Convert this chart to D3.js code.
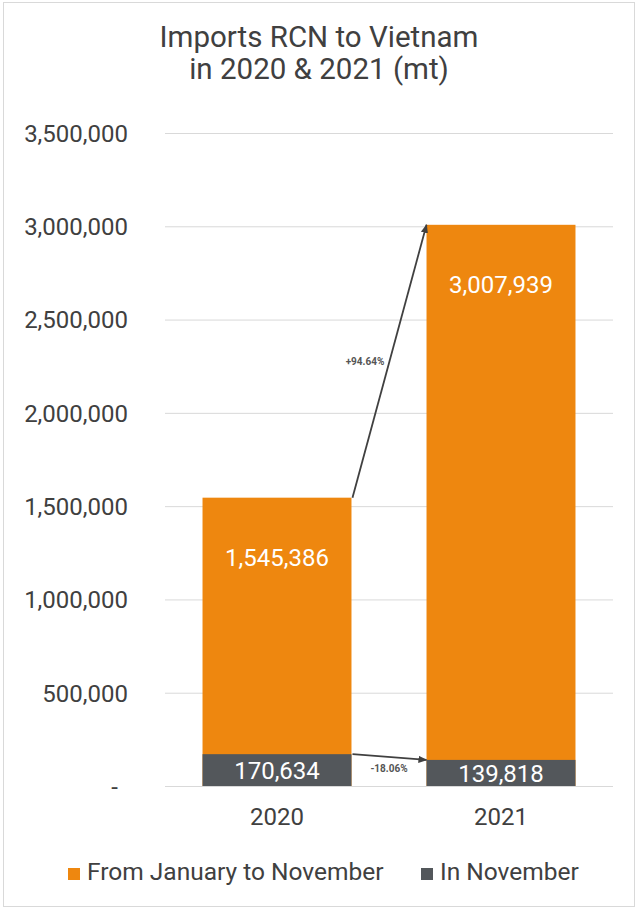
<!DOCTYPE html>
<html>
<head>
<meta charset="utf-8">
<script src="https://cdn.jsdelivr.net/npm/d3@7"></script>
<style>
body { margin: 0; background: #fff; }
text { font-family: Roboto, "Noto Sans", sans-serif; }
</style>
</head>
<body>
<script>
//chart data
var years = ["2020", "2021"];
var janToNov = [1545386, 3007939];
var inNov = [170634, 139818];
var changeLabels = ["+94.64%", "-18.06%"];
var seriesNames = ["From January to November", "In November"];
var tickValues = [0, 500000, 1000000, 1500000, 2000000, 2500000, 3000000, 3500000];

var width = 639, height = 911;
var orange = "#ee870f", gray = "#53575b";

var svg = d3.select("body")
    .append("svg")
    .attr("width", width)
    .attr("height", height);

//outer frame
svg.append("rect")
    .attr("x", 3.5).attr("y", 2.5)
    .attr("width", 631).attr("height", 904)
    .attr("fill", "#fff")
    .attr("stroke", "#d9d9d9");

//title
svg.append("text")
    .attr("x", 319).attr("y", 47)
    .attr("text-anchor", "middle")
    .attr("font-size", 29.5)
    .attr("fill", "#404040")
    .text("Imports RCN to Vietnam");
svg.append("text")
    .attr("x", 319).attr("y", 79)
    .attr("text-anchor", "middle")
    .attr("font-size", 29.5)
    .attr("fill", "#404040")
    .text("in 2020 & 2021 (mt)");

//scales
var xScale = d3.scaleBand()
    .domain(years)
    .range([165, 613])
    .paddingInner(0.335)
    .paddingOuter(0.1675);

var yScale = d3.scaleLinear()
    .domain([0, 3500000])
    .range([786, 133]);

//gridlines
svg.append("g").selectAll("line")
    .data(tickValues)
    .enter()
    .append("line")
    .attr("x1", 165).attr("x2", 613)
    .attr("y1", function (d) { return yScale(d) + 0.5; })
    .attr("y2", function (d) { return yScale(d) + 0.5; })
    .attr("stroke", "#d9d9d9")
    .attr("stroke-width", 1);

//y axis labels
var yAxis = d3.axisLeft(yScale)
    .tickValues(tickValues)
    .tickSize(0)
    .tickPadding(0)
    .tickFormat(function (d) { return d === 0 ? "-" : d3.format(",")(d); });

var yAxisG = svg.append("g")
    .attr("transform", "translate(128,0)")
    .call(yAxis);
yAxisG.select(".domain").remove();
yAxisG.selectAll("text")
    .attr("font-size", 24)
    .attr("fill", "#404040")
    .attr("font-family", "Roboto, sans-serif")
    .attr("dy", "0.35em")
    .attr("dx", function (d) { return d === 0 ? -10 : 0; });

//bars, orange total with the november bar over it
svg.append("g").selectAll("rect")
    .data(janToNov)
    .enter()
    .append("rect")
    .attr("x", function (d, i) { return xScale(years[i]); })
    .attr("width", xScale.bandwidth())
    .attr("y", function (d) { return yScale(d); })
    .attr("height", function (d) { return yScale(0) - yScale(d); })
    .attr("fill", orange);

svg.append("g").selectAll("rect")
    .data(inNov)
    .enter()
    .append("rect")
    .attr("x", function (d, i) { return xScale(years[i]); })
    .attr("width", xScale.bandwidth())
    .attr("y", function (d) { return yScale(d); })
    .attr("height", function (d) { return yScale(0) - yScale(d); })
    .attr("fill", gray);

//value labels
svg.append("g").selectAll("text")
    .data(janToNov)
    .enter()
    .append("text")
    .attr("x", function (d, i) { return xScale(years[i]) + xScale.bandwidth() / 2; })
    .attr("y", function (d) { return yScale(d) + 68; })
    .attr("text-anchor", "middle")
    .attr("font-size", 24)
    .attr("fill", "#fff")
    .text(function (d) { return d3.format(",")(d); });

svg.append("g").selectAll("text")
    .data(inNov)
    .enter()
    .append("text")
    .attr("x", function (d, i) { return xScale(years[i]) + xScale.bandwidth() / 2; })
    .attr("y", function (d) { return (yScale(d) + yScale(0)) / 2 + 9; })
    .attr("text-anchor", "middle")
    .attr("font-size", 24)
    .attr("fill", "#fff")
    .text(function (d) { return d3.format(",")(d); });

//x axis labels
svg.append("g").selectAll("text")
    .data(years)
    .enter()
    .append("text")
    .attr("x", function (d) { return xScale(d) + xScale.bandwidth() / 2; })
    .attr("y", 825)
    .attr("text-anchor", "middle")
    .attr("font-size", 24)
    .attr("fill", "#404040")
    .text(function (d) { return d; });

//change arrows
svg.append("defs").append("marker")
    .attr("id", "arrow")
    .attr("viewBox", "0 0 10 10")
    .attr("refX", 9).attr("refY", 5)
    .attr("markerWidth", 5).attr("markerHeight", 5)
    .attr("orient", "auto")
    .append("path")
    .attr("d", "M0,1L10,5L0,9Z")
    .attr("fill", "#404040");

var x0 = xScale(years[0]) + xScale.bandwidth() + 1,
    x1 = xScale(years[1]);
var arrows = [
    { from: janToNov[0], to: janToNov[1], label: changeLabels[0], lx: 365, ly: 365 },
    { from: inNov[0], to: inNov[1], label: changeLabels[1], lx: 389, ly: 772 }
];

svg.append("g").selectAll("line")
    .data(arrows)
    .enter()
    .append("line")
    .attr("x1", x0)
    .attr("y1", function (d) { return yScale(d.from); })
    .attr("x2", x1)
    .attr("y2", function (d) { return yScale(d.to); })
    .attr("stroke", "#404040")
    .attr("stroke-width", 1.8)
    .attr("marker-end", "url(#arrow)");

svg.append("g").selectAll("text")
    .data(arrows)
    .enter()
    .append("text")
    .attr("x", function (d) { return d.lx; })
    .attr("y", function (d) { return d.ly; })
    .attr("text-anchor", "middle")
    .attr("font-size", 10)
    .attr("font-weight", "bold")
    .attr("fill", "#555")
    .text(function (d) { return d.label; });

//legend
var legendItems = [
    { name: seriesNames[0], color: orange, x: 68 },
    { name: seriesNames[1], color: gray, x: 421 }
];
var legend = svg.append("g").selectAll("g")
    .data(legendItems)
    .enter()
    .append("g");
legend.append("rect")
    .attr("x", function (d) { return d.x; })
    .attr("y", 868)
    .attr("width", 12).attr("height", 12)
    .attr("fill", function (d) { return d.color; });
legend.append("text")
    .attr("x", function (d) { return d.x + 19; })
    .attr("y", 880)
    .attr("font-size", 24.5)
    .attr("fill", "#404040")
    .text(function (d) { return d.name; });
</script>
</body>
</html>
